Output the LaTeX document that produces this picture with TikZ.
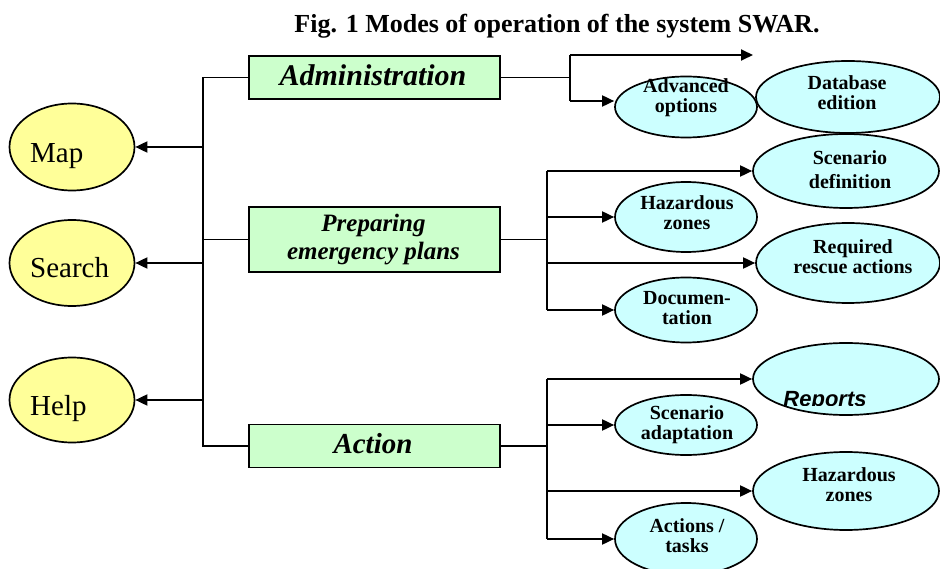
\documentclass[tikz,border=0pt]{standalone}
\usepackage{fontspec}
\setmainfont{Liberation Serif}
\newfontfamily\arialf{Liberation Sans}
\usetikzlibrary{shapes.geometric,arrows.meta}
\definecolor{yell}{HTML}{FFFF99}
\definecolor{grn}{HTML}{CCFFCC}
\definecolor{cyn}{HTML}{CCFFFF}
\tikzset{
  ln/.style={line width=1.8pt},
  arr/.style={line width=1.8pt,-{Triangle[length=12pt,width=11pt]}},
  yel/.style={ellipse,draw,line width=1.7pt,fill=yell,inner sep=0pt},
  cyell/.style={ellipse,draw,line width=1.7pt,fill=cyn,inner sep=0pt},
  gbox/.style={rectangle,draw,line width=1.7pt,fill=grn,inner sep=0pt,minimum width=251pt},
  small/.style={ellipse,cyell,minimum width=142pt},
  big/.style={ellipse,cyell,minimum width=186pt},
  etext/.style={align=center,inner sep=0pt,font=\fontsize{20}{20}\selectfont\bfseries},
  ltext/.style={anchor=base west,inner sep=0pt,font=\fontsize{29}{29}\selectfont},
}
\begin{document}
\begin{tikzpicture}[x=1pt,y=-1pt]
\useasboundingbox (0,0) rectangle (940,569);
\node[inner sep=0pt,font=\fontsize{26}{26}\selectfont\bfseries] (title) at (557,26) {Fig. 1 Modes of operation of the system SWAR.};

% left ellipses
\node[yel,minimum width=125pt,minimum height=87pt] (map) at (72,147) {};
\node[yel,minimum width=125pt,minimum height=86pt] (search) at (72,263) {};
\node[yel,minimum width=125pt,minimum height=85pt] (help) at (72,400) {};
\node[ltext] (tmap) at (30,163) {Map};
\node[ltext] (tsearch) at (30,278) {Search};
\node[ltext] (thelp) at (30,415) {Help};

% green boxes
\node[gbox,minimum height=43pt] (admin) at (374.5,77.5) {};
\node[gbox,minimum height=65pt] (prep) at (374.5,239.5) {};
\node[gbox,minimum height=43pt] (action) at (374.5,446) {};
\node[anchor=base,inner sep=0pt,font=\fontsize{30}{30}\selectfont\bfseries\itshape] (tadmin) at (373,86) {Administration};
\node[align=center,inner sep=0pt,font=\fontsize{25}{28}\selectfont\bfseries\itshape] (tprep) at (373.5,240) {Preparing\\emergency plans};
\node[anchor=base,inner sep=0pt,font=\fontsize{29}{29}\selectfont\bfseries\itshape] (taction) at (373,453) {Action};

% left trunk
\coordinate (jt) at (203,77.5);
\coordinate (jb) at (203,446);
\draw[ln] (admin.west) -- (jt) -- (jb) -- (action.west);
\draw[ln] (prep.west) -- (prep.west -| jt);
\draw[arr] (map.east -| jt) -- (map.east);
\draw[arr] (search.east -| jt) -- (search.east);
\draw[arr] (help.east -| jt) -- (help.east);

% right ellipses
\node[small,minimum height=61pt] (adv) at (686,107) {};
\node[big,minimum width=184pt,minimum height=72pt] (db) at (848,97) {};
\node[big,minimum height=74pt] (scen) at (846,171) {};
\node[small,minimum height=70pt] (hz1) at (686,217) {};
\node[big,minimum width=184pt,minimum height=80pt] (req) at (848,263) {};
\node[small,minimum height=65pt] (doc) at (686,310) {};
\node[big,minimum height=72pt] (rep) at (846,379) {};
\node[small,minimum height=60pt] (sad) at (686,425) {};
\node[big,minimum height=78pt] (hz2) at (846,491) {};
\node[small,minimum height=72pt] (act) at (686,539) {};

\node[etext] (tadv) at (686,97.5) {Advanced\\options};
\node[etext] (tdb) at (847,92.5) {Database\\edition};
\node[etext,font=\fontsize{20}{24}\selectfont\bfseries] (tscen) at (850,170) {Scenario\\definition};
\node[etext] (thz1) at (687,213) {Hazardous\\zones};
\node[etext] (treq) at (853,256.5) {Required\\rescue actions};
\node[etext] (tdoc) at (687,308) {Documen-\\tation};
\node[etext] (tsad) at (687,425) {Scenario\\adaptation};
\node[etext] (thz2) at (849,484.5) {Hazardous\\zones};
\node[etext] (tact) at (687,535.5) {Actions /\\tasks};
\begin{scope}
\clip (753,343) rectangle (940,405.5);
\node[anchor=base,inner sep=0pt,font=\fontsize{22}{22}\selectfont\arialf\bfseries\itshape] (trep) at (825,406) {Reports};
\end{scope}

% admin right
\coordinate (ra) at (570,77.5);
\coordinate (ra1) at (570,55);
\coordinate (ra2) at (570,101);
\coordinate (rafree) at (753,55);
\draw[ln] (admin.east) -- (ra);
\draw[ln] (ra1) -- (ra2);
\draw[arr] (ra1) -- (rafree);
\draw[arr] (ra2) -- (ra2 -| adv.west);

% prep right
\coordinate (rp) at (547,239.5);
\draw[ln] (prep.east) -- (rp);
\draw[ln] (scen.west -| rp) -- (doc.west -| rp);
\draw[arr] (scen.west -| rp) -- (scen.west);
\draw[arr] (hz1.west -| rp) -- (hz1.west);
\draw[arr] (req.west -| rp) -- (req.west);
\draw[arr] (doc.west -| rp) -- (doc.west);

% action right
\coordinate (rc) at (547,446);
\draw[ln] (action.east) -- (rc);
\draw[ln] (rep.west -| rc) -- (act.west -| rc);
\draw[arr] (rep.west -| rc) -- (rep.west);
\draw[arr] (sad.west -| rc) -- (sad.west);
\draw[arr] (hz2.west -| rc) -- (hz2.west);
\draw[arr] (act.west -| rc) -- (act.west);
\end{tikzpicture}
\end{document}
